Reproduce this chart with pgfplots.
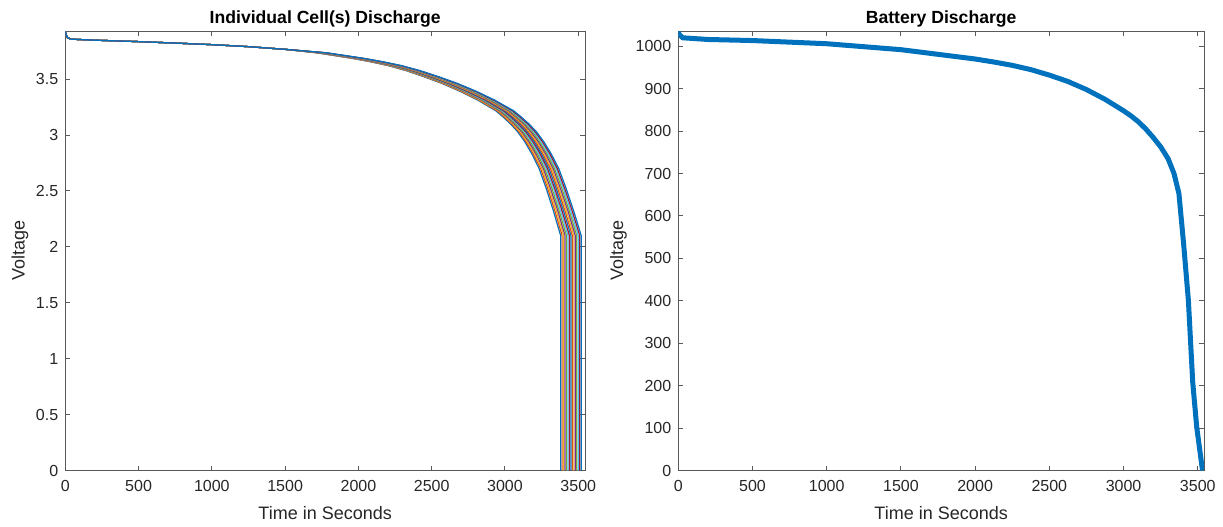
\documentclass[border=0pt]{standalone}
\usepackage{pgfplots}
\pgfplotsset{compat=1.18}
\usepackage{pgfplotstable}
\usepackage{fontspec}
\setmainfont{Liberation Sans}
\definecolor{mA}{rgb}{0,0.447,0.741}
\definecolor{mB}{rgb}{0.850,0.325,0.098}
\definecolor{mC}{rgb}{0.929,0.694,0.125}
\definecolor{mD}{rgb}{0.494,0.184,0.556}
\definecolor{mE}{rgb}{0.466,0.674,0.188}
\definecolor{mF}{rgb}{0.301,0.745,0.933}
\definecolor{mG}{rgb}{0.635,0.078,0.184}
\definecolor{axgray}{rgb}{0.35,0.35,0.35}
\definecolor{txtgray}{rgb}{0.15,0.15,0.15}

\pgfplotstableread{
v     t1   t2   t3   t4   t5   t6   t7   t8   t9   t10  t11  t12  t13  t14  t15
3.93  0    0    0    0    0    0    0    0    0    0    0    0    0    0    0
3.90  5    5    5    5    5    5    5    5    5    5    5    5    5    5    5
3.87  15   15   15   15   15   15   15   15   15   15   15   15   15   15   15
3.857 40   40   40   40   40   40   40   40   40   40   40   40   40   40   40
3.848 200  200  200  200  200  200  200  200  200  200  200  200  200  200  200
3.835 500  500  500  500  500  500  500  500  500  500  500  500  500  500  500
3.822 750  750  750  750  750  750  750  750  750  750  750  750  750  750  750
3.808 1000 1000 1000 1000 1000 1000 1000 1000 1000 1000 1000 1000 1000 1000 1000
3.79  1250 1250 1250 1250 1250 1250 1250 1250 1250 1250 1250 1250 1250 1250 1250
3.766 1500 1500 1500 1500 1500 1500 1500 1500 1500 1500 1500 1500 1500 1500 1500
3.735 1715 1720 1725 1730 1735 1740 1745 1750 1755 1760 1765 1770 1775 1780 1786
3.685 1959 1965 1971 1977 1983 1988 1994 2000 2006 2012 2017 2023 2029 2035 2041
3.655 2082 2088 2094 2100 2107 2113 2119 2125 2131 2137 2144 2150 2156 2162 2168
3.62  2204 2211 2217 2224 2230 2237 2243 2250 2257 2263 2270 2276 2283 2289 2296
3.575 2327 2334 2341 2348 2354 2361 2368 2375 2382 2389 2396 2403 2409 2416 2423
3.52  2449 2457 2464 2471 2478 2486 2493 2500 2507 2514 2522 2529 2536 2543 2551
3.46  2572 2579 2587 2595 2602 2610 2617 2625 2633 2640 2648 2655 2663 2671 2678
3.39  2694 2702 2710 2718 2726 2734 2742 2750 2758 2766 2774 2782 2790 2798 2806
3.31  2817 2825 2833 2842 2850 2858 2867 2875 2883 2892 2900 2908 2917 2925 2933
3.215 2939 2948 2957 2965 2974 2983 2991 3000 3009 3017 3026 3035 3044 3052 3061
3.16  2988 2997 3006 3015 3023 3032 3041 3050 3059 3068 3077 3085 3094 3103 3112
3.10  3037 3046 3055 3064 3073 3082 3091 3100 3109 3118 3127 3136 3145 3154 3163
3.03  3086 3095 3104 3114 3123 3132 3141 3150 3159 3168 3177 3187 3196 3205 3214
2.94  3135 3144 3154 3163 3172 3181 3191 3200 3209 3219 3228 3237 3246 3256 3265
2.83  3184 3193 3203 3212 3222 3231 3241 3250 3259 3269 3278 3288 3297 3307 3316
2.70  3233 3243 3252 3262 3271 3281 3290 3300 3310 3319 3329 3338 3348 3357 3367
2.52  3282 3292 3301 3311 3321 3331 3340 3350 3360 3369 3379 3389 3399 3408 3418
2.32  3331 3341 3351 3361 3370 3380 3390 3400 3410 3420 3430 3439 3449 3459 3469
2.21  3355 3365 3375 3385 3395 3405 3415 3425 3435 3445 3455 3465 3475 3485 3495
2.10  3380 3390 3400 3410 3420 3430 3440 3450 3460 3470 3480 3490 3500 3510 3520
0     3380 3390 3400 3410 3420 3430 3440 3450 3460 3470 3480 3490 3500 3510 3520
}\cells

\pgfplotstableread{
t     v
0     1036
5     1028
30    1020
200   1016
500   1013.5
1000  1006
1500  992
2000  970
2125  963
2250  955
2375  945
2500  932
2625  917
2750  898
2875  875
3000  848
3050  836
3100  822
3150  805
3200  785
3250  763
3300  735
3340  700
3373  653
3404  537
3437  400
3466  208
3493  102
3532  0
}\battery

\pgfplotsset{
  mstyle/.style={
    scale only axis,
    height=219.75pt,
    xmin=0,
    axis line style={draw=axgray, line width=0.5pt},
    tick style={draw=axgray, line width=0.5pt},
    major tick length=2.5pt,
    tick align=inside,
    tick pos=both,
    tick label style={font=\fontsize{8}{9}\selectfont, text=txtgray},
    label style={font=\fontsize{9}{10}\selectfont, text=txtgray},
    title style={font=\fontsize{8.8}{10}\selectfont\bfseries, at={(0.5,1)}, anchor=base, yshift=-2pt},
    /pgf/number format/assume math mode=true,
    /pgf/number format/1000 sep={},
    scaled ticks=false,
    xtick={0,500,...,3500},
    xticklabel style={yshift=-1.5pt},
    xlabel={Time in Seconds},
    ylabel={Voltage},
    xlabel style={yshift=-0.5pt},
    cycle list={{mA},{mB},{mC},{mD},{mE},{mF},{mG}},
  }
}

\begin{document}
\begin{tikzpicture}
\useasboundingbox (-32.65pt,-27.75pt) rectangle (578.85pt,235.25pt);
\begin{axis}[mstyle,
  name=left,
  at={(0pt,0pt)}, anchor=south west,
  width=259.85pt,
  xmax=3546, ymin=0, ymax=3.93,
  ytick={0,0.5,...,3.5},
  title={Individual Cell(s) Discharge},
  ylabel style={yshift=-3pt},
]
\foreach \c in {1,...,15}{
  \addplot+[no marks, line width=0.6pt] table[x=t\c, y=v] {\cells};
}
\end{axis}
\begin{axis}[mstyle,
  name=right,
  at={(306.5pt,0pt)}, anchor=south west,
  width=262.85pt,
  xmax=3542, ymin=0, ymax=1036,
  ytick={0,100,...,1000},
  title={Battery Discharge},
  ylabel style={yshift=-2.5pt},
]
\addplot[no marks, color=mA, line width=2.5pt] table[x=t, y=v] {\battery};
\end{axis}
\end{tikzpicture}
\end{document}
